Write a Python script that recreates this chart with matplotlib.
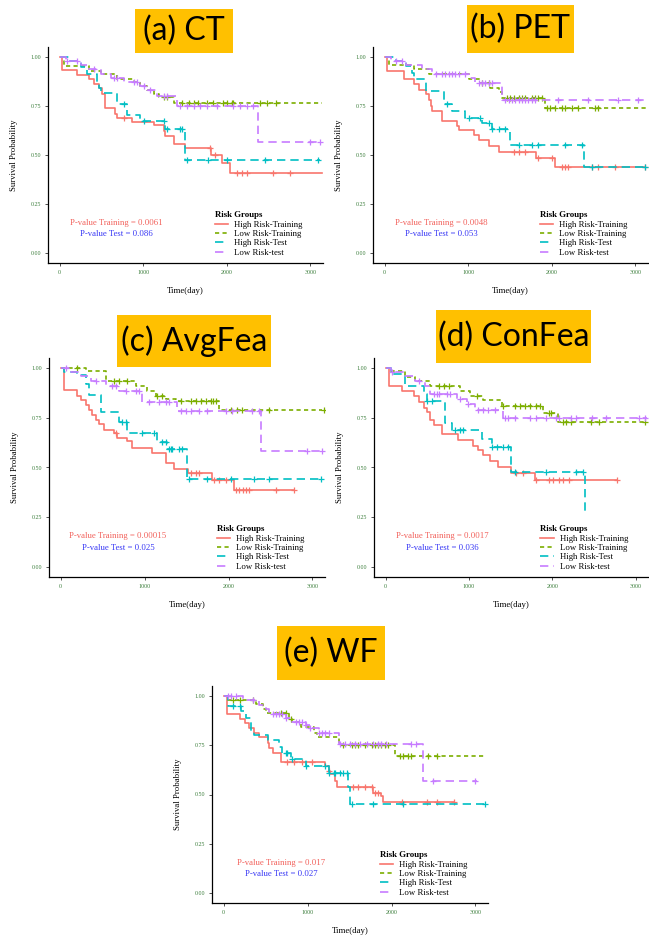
import numpy as np
import matplotlib.pyplot as plt
from matplotlib.patches import Rectangle
from matplotlib.lines import Line2D

groups = ["High Risk-Training", "Low Risk-Training", "High Risk-Test", "Low Risk-test"]
colors = ["#F8766D", "#7CAE00", "#00BFC4", "#C77CFF"]
styles = ["-", (0, (2.5, 2)), (0, (5, 3)), (0, (5, 3))]

titles = ["(a) CT", "(b) PET", "(c) AvgFea", "(d) ConFea", "(e) WF"]
p_train = ["0.0061", "0.0048", "0.00015", "0.0017", "0.017"]
p_test = ["0.086", "0.053", "0.025", "0.036", "0.027"]

# (a) CT
a_hitr_t = [0, 32, 211, 350, 409, 469, 509, 536, 667, 687, 866, 1124, 1244, 1263, 1363, 1502, 1808, 1939, 2038, 3143]
a_hitr_s = [1, .932, .909, .885, .86, .84, .81, .74, .71, .689, .667, .655, .62, .595, .557, .535, .50, .461, .41, .41]
a_hitr_c = [767, 1800, 1859, 2118, 2177, 2237, 2555, 2753]
a_lotr_t = [0, 52, 350, 489, 687, 886, 965, 1045, 1124, 1184, 1363, 3143]
a_lotr_s = [1, .955, .93, .91, .887, .87, .85, .83, .81, .794, .765, .765]
a_lotr_c = [1244, 1283, 1462, 1542, 1601, 1660, 1760, 1839, 1958, 1998, 2058, 2078, 2395, 2475, 2586]
a_hite_t = [0, 111, 250, 330, 449, 469, 489, 687, 807, 965, 1263, 1502, 3111]
a_hite_s = [1, .98, .95, .91, .87, .84, .816, .76, .704, .672, .633, .473, .473]
a_hite_c = [767, 1005, 1244, 1283, 1442, 1462, 1522, 1780, 1998, 2455, 3091]
a_lote_t = [0, 72, 250, 350, 489, 608, 767, 965, 1045, 1164, 1402, 2376, 3111]
a_lote_s = [1, .98, .96, .94, .91, .89, .87, .85, .83, .80, .75, .566, .566]
a_lote_c = [91, 211, 409, 648, 687, 886, 926, 1005, 1085, 1244, 1283, 1442, 1522, 1601,
            1681, 1760, 1879, 2078, 2157, 2237, 2316, 2992, 3111]

# (b) PET
b_hitr_t = [0, 32, 230, 350, 409, 489, 528, 548, 568, 687, 866, 886, 1065, 1124, 1244, 1363, 1808, 2038, 3111]
b_hitr_s = [1, .93, .885, .86, .83, .81, .78, .75, .726, .675, .65, .625, .60, .575, .545, .515, .485, .439, .439]
b_hitr_c = [1542, 1601, 1681, 1839, 1998, 2118, 2157, 2197, 2475, 2555, 2753, 3111]
b_lotr_t = [0, 52, 350, 528, 1005, 1144, 1263, 1363, 1402, 1919, 3143]
b_lotr_s = [1, .96, .94, .91, .885, .865, .84, .82, .79, .74, .74]
b_lotr_c = [1164, 1244, 1462, 1502, 1542, 1601, 1640, 1681, 1760, 1800, 1839, 1879, 1939,
            1979, 2038, 2118, 2157, 2237, 2316, 2515, 2555]
b_hite_t = [0, 131, 250, 330, 350, 489, 707, 807, 965, 1164, 1283, 1502, 2388, 3111]
b_hite_s = [1, .98, .955, .92, .885, .824, .76, .725, .69, .665, .633, .552, .44, .44]
b_hite_c = [747, 1005, 1144, 1244, 1283, 1363, 1442, 1601, 1760, 1839, 2157, 2356, 2475, 3111]
b_lote_t = [0, 72, 250, 449, 568, 1005, 1085, 1402, 3111]
b_lote_s = [1, .98, .96, .94, .91, .89, .865, .78, .78]
b_lote_c = [131, 211, 608, 687, 727, 767, 807, 846, 886, 965, 1124, 1164, 1204, 1244, 1283,
            1442, 1482, 1522, 1561, 1601, 1641, 1681, 1720, 1760, 1800, 2078, 2435, 2793, 3031]

# (c) AvgFea
c_hitr_t = [0, 40, 199, 238, 298, 338, 377, 417, 457, 516, 636, 675, 795, 854, 1093, 1251, 1351, 1522, 1808, 2066, 2781]
c_hitr_s = [1, .887, .86, .84, .815, .79, .765, .74, .72, .69, .675, .65, .635, .60, .575, .521, .49, .47, .437, .387, .387]
c_hitr_c = [655, 1550, 1610, 1650, 1830, 1890, 1970, 2090, 2130, 2170, 2210, 2250, 2570, 2781]
c_lotr_t = [0, 298, 536, 894, 1033, 1132, 1251, 1371, 1887, 3119]
c_lotr_s = [1, .985, .933, .91, .885, .86, .845, .832, .79, .79]
c_lotr_c = [199, 636, 695, 795, 1152, 1211, 1430, 1550, 1610, 1670, 1730, 1790, 1820, 1850,
            2026, 2106, 2165, 2483, 3139]
c_hite_t = [0, 40, 199, 298, 338, 477, 695, 795, 1152, 1271, 1510, 3119]
c_hite_s = [1, .98, .965, .92, .866, .78, .73, .672, .63, .593, .442, .442]
c_hite_c = [735, 775, 973, 1112, 1211, 1251, 1291, 1311, 1331, 1410, 1450, 1530, 1748, 2026, 2304, 2483, 3100]
c_lote_t = [0, 120, 238, 358, 536, 695, 973, 1391, 2384, 3119]
c_lote_s = [1, .98, .96, .935, .91, .885, .827, .785, .585, .585]
c_lote_c = [60, 417, 616, 655, 775, 894, 933, 1053, 1172, 1251, 1291, 1430, 1490, 1550, 1650,
            1748, 1967, 2046, 2285, 2364, 2940, 3119]

# (d) ConFea
d_hitr_t = [0, 40, 199, 338, 397, 457, 497, 536, 576, 675, 874, 1053, 1112, 1172, 1251, 1351, 1510, 1788, 2781]
d_hitr_s = [1, .91, .885, .86, .83, .80, .78, .74, .714, .667, .64, .61, .59, .565, .535, .505, .474, .435, .435]
d_hitr_c = [1570, 1650, 1808, 1967, 2006, 2086, 2125, 2205, 2781]
d_lotr_t = [0, 60, 238, 358, 536, 894, 1013, 1172, 1391, 1887, 2066, 3119]
d_lotr_s = [1, .985, .955, .935, .91, .885, .86, .84, .81, .775, .728, .728]
d_lotr_c = [636, 695, 755, 1093, 1410, 1550, 1610, 1670, 1730, 1808, 1850, 1967, 1987, 2125,
            2165, 2225, 2463, 2562, 3119]
d_hite_t = [0, 60, 238, 457, 497, 715, 795, 1152, 1271, 1510, 2396]
d_hite_s = [1, .97, .91, .87, .832, .723, .689, .645, .605, .479, .277]
d_hite_c = [497, 556, 834, 894, 933, 1271, 1331, 1410, 1470, 1550, 1927, 2285, 2364]
d_lote_t = [0, 60, 238, 358, 477, 536, 854, 973, 1073, 1410, 3139]
d_lote_s = [1, .98, .96, .935, .91, .869, .845, .82, .79, .748, .748]
d_lote_c = [80, 397, 576, 616, 636, 735, 775, 894, 993, 1112, 1172, 1231, 1311, 1430, 1470,
            1550, 1728, 1808, 1927, 2046, 2086, 2225, 2285, 2483, 2642, 3040, 3119]

# (e) WF
e_hitr_t = [0, 39, 189, 248, 307, 366, 425, 523, 543, 582, 680, 1211, 1250, 1270, 1329, 1349, 1781, 1880, 1899, 2745]
e_hitr_s = [1, .909, .885, .86, .835, .81, .789, .76, .735, .71, .667, .645, .62, .603, .57, .54, .51, .49, .464, .464]
e_hitr_c = [759, 837, 936, 1053, 1250, 1545, 1604, 1683, 1762, 1802, 1840, 2129, 2423, 2540, 2745]
e_lotr_t = [0, 51, 385, 464, 503, 779, 818, 916, 1073, 1113, 1368, 2037, 3118]
e_lotr_s = [1, .98, .96, .935, .912, .885, .865, .84, .81, .79, .752, .696, .696]
e_lotr_c = [110, 189, 346, 680, 739, 798, 1427, 1525, 1565, 1604, 1683, 1762, 1802, 1840,
            1880, 1920, 1958, 2096, 2135, 2194, 2233, 2430, 2548]
e_hite_t = [0, 51, 208, 260, 326, 366, 523, 661, 700, 798, 975, 1250, 1486, 1506, 3118]
e_hite_s = [1, .95, .925, .89, .82, .80, .777, .74, .709, .679, .642, .608, .54, .453, .453]
e_hite_c = [110, 189, 739, 759, 818, 975, 1211, 1250, 1309, 1329, 1388, 1427, 1467, 1525, 1781, 2135, 3118]
e_lote_t = [0, 228, 425, 503, 543, 739, 818, 975, 1034, 1132, 1368, 2371, 3020]
e_lote_s = [1, .98, .955, .935, .91, .89, .87, .85, .836, .81, .757, .566, .566]
e_lote_c = [51, 90, 149, 346, 582, 622, 661, 700, 739, 857, 897, 936, 975, 1034, 1132, 1172,
            1211, 1250, 1388, 1447, 1506, 1565, 1624, 1702, 1781, 1840, 1880, 1939, 2233, 2292, 2489, 2995]

panels = [
    [(a_hitr_t, a_hitr_s, a_hitr_c), (a_lotr_t, a_lotr_s, a_lotr_c), (a_hite_t, a_hite_s, a_hite_c), (a_lote_t, a_lote_s, a_lote_c)],
    [(b_hitr_t, b_hitr_s, b_hitr_c), (b_lotr_t, b_lotr_s, b_lotr_c), (b_hite_t, b_hite_s, b_hite_c), (b_lote_t, b_lote_s, b_lote_c)],
    [(c_hitr_t, c_hitr_s, c_hitr_c), (c_lotr_t, c_lotr_s, c_lotr_c), (c_hite_t, c_hite_s, c_hite_c), (c_lote_t, c_lote_s, c_lote_c)],
    [(d_hitr_t, d_hitr_s, d_hitr_c), (d_lotr_t, d_lotr_s, d_lotr_c), (d_hite_t, d_hite_s, d_hite_c), (d_lote_t, d_lote_s, d_lote_c)],
    [(e_hitr_t, e_hitr_s, e_hitr_c), (e_lotr_t, e_lotr_s, e_lotr_c), (e_hite_t, e_hite_s, e_hite_c), (e_lote_t, e_lote_s, e_lote_c)],
]

W, H = 649, 939
# axes boxes in pixels: left, right, top, bottom
axes_px = [(48, 323, 47, 263), (373, 648, 47, 263), (49, 325, 358, 577),
           (374, 648, 358, 577), (212, 488, 686, 903)]
# title boxes in pixels: left, right, top, bottom
title_px = [(135, 233, 9, 53), (467, 574, 5, 53), (117, 271, 315, 367),
            (436, 591, 310, 363), (277, 385, 626, 680)]

serif = "Liberation Serif"
tick_color = "#3d7f3d"

fig = plt.figure(figsize=(W / 100, H / 100), dpi=100)


def draw_panel(ax, curves, ptr, pte):
    for (t, s, c), col, ls in zip(curves, colors, styles):
        ax.step(t, s, where="post", color=col, lw=1.2, ls=ls)
        t = np.asarray(t)
        s = np.asarray(s)
        idx = np.searchsorted(t, c, side="right") - 1
        ax.plot(c, s[idx], "+", color=col, ms=4.5, mew=0.9, ls="none")
    ax.set_xlim(-140, 3150)
    ax.set_ylim(-0.05, 1.05)
    ax.set_xticks([0, 1000, 2000, 3000])
    ax.set_yticks([0, 0.25, 0.5, 0.75, 1.0])
    ax.set_yticklabels(["0.00", "0.25", "0.50", "0.75", "1.00"])
    for sp in ["top", "right"]:
        ax.spines[sp].set_visible(False)
    for sp in ["left", "bottom"]:
        ax.spines[sp].set_linewidth(0.9)
    ax.tick_params(length=2, width=0.6, color="#333333", labelsize=4.3,
                   labelcolor=tick_color, pad=3)
    for lab in ax.get_xticklabels() + ax.get_yticklabels():
        lab.set_family(serif)
    ax.set_xlabel("Time(day)", family=serif, fontsize=6.3, labelpad=9)
    ax.set_ylabel("Survival Probability", family=serif, fontsize=6.3, labelpad=9)
    ax.text(0.25, 0.185, "P-value Training = " + ptr, transform=ax.transAxes,
            ha="center", va="center", color="#F2605A", family=serif, fontsize=6.3)
    ax.text(0.25, 0.134, "P-value Test = " + pte, transform=ax.transAxes,
            ha="center", va="center", color="#3535F5", family=serif, fontsize=6.3)
    handles = [Line2D([], [], color=col, lw=1.2, ls=ls) for col, ls in zip(colors, styles)]
    leg = ax.legend(handles, groups, title="Risk Groups", loc="lower left",
                    bbox_to_anchor=(0.585, 0.0), frameon=False, prop={"family": serif, "size": 6.3},
                    handlelength=1.5, handletextpad=0.7, labelspacing=0.15, borderpad=0.2,
                    alignment="left")
    leg.get_title().set_fontfamily(serif)
    leg.get_title().set_fontweight("bold")
    leg.get_title().set_fontsize(6.3)


for i in range(5):
    l, r, t, b = axes_px[i]
    ax = fig.add_axes([l / W, 1 - b / H, (r - l) / W, (b - t) / H])
    draw_panel(ax, panels[i], p_train[i], p_test[i])
    tl, tr, tt, tb = title_px[i]
    fig.patches.append(Rectangle((tl / W, 1 - tb / H), (tr - tl) / W, (tb - tt) / H,
                                 transform=fig.transFigure, facecolor="#FFC000", edgecolor="none"))
    fig.text((tl + tr) / 2 / W, 1 - (tt + tb) / 2 / H, titles[i], ha="center", va="center",
             family="Lato", fontsize=23)

fig.savefig("out.png", dpi=100)
